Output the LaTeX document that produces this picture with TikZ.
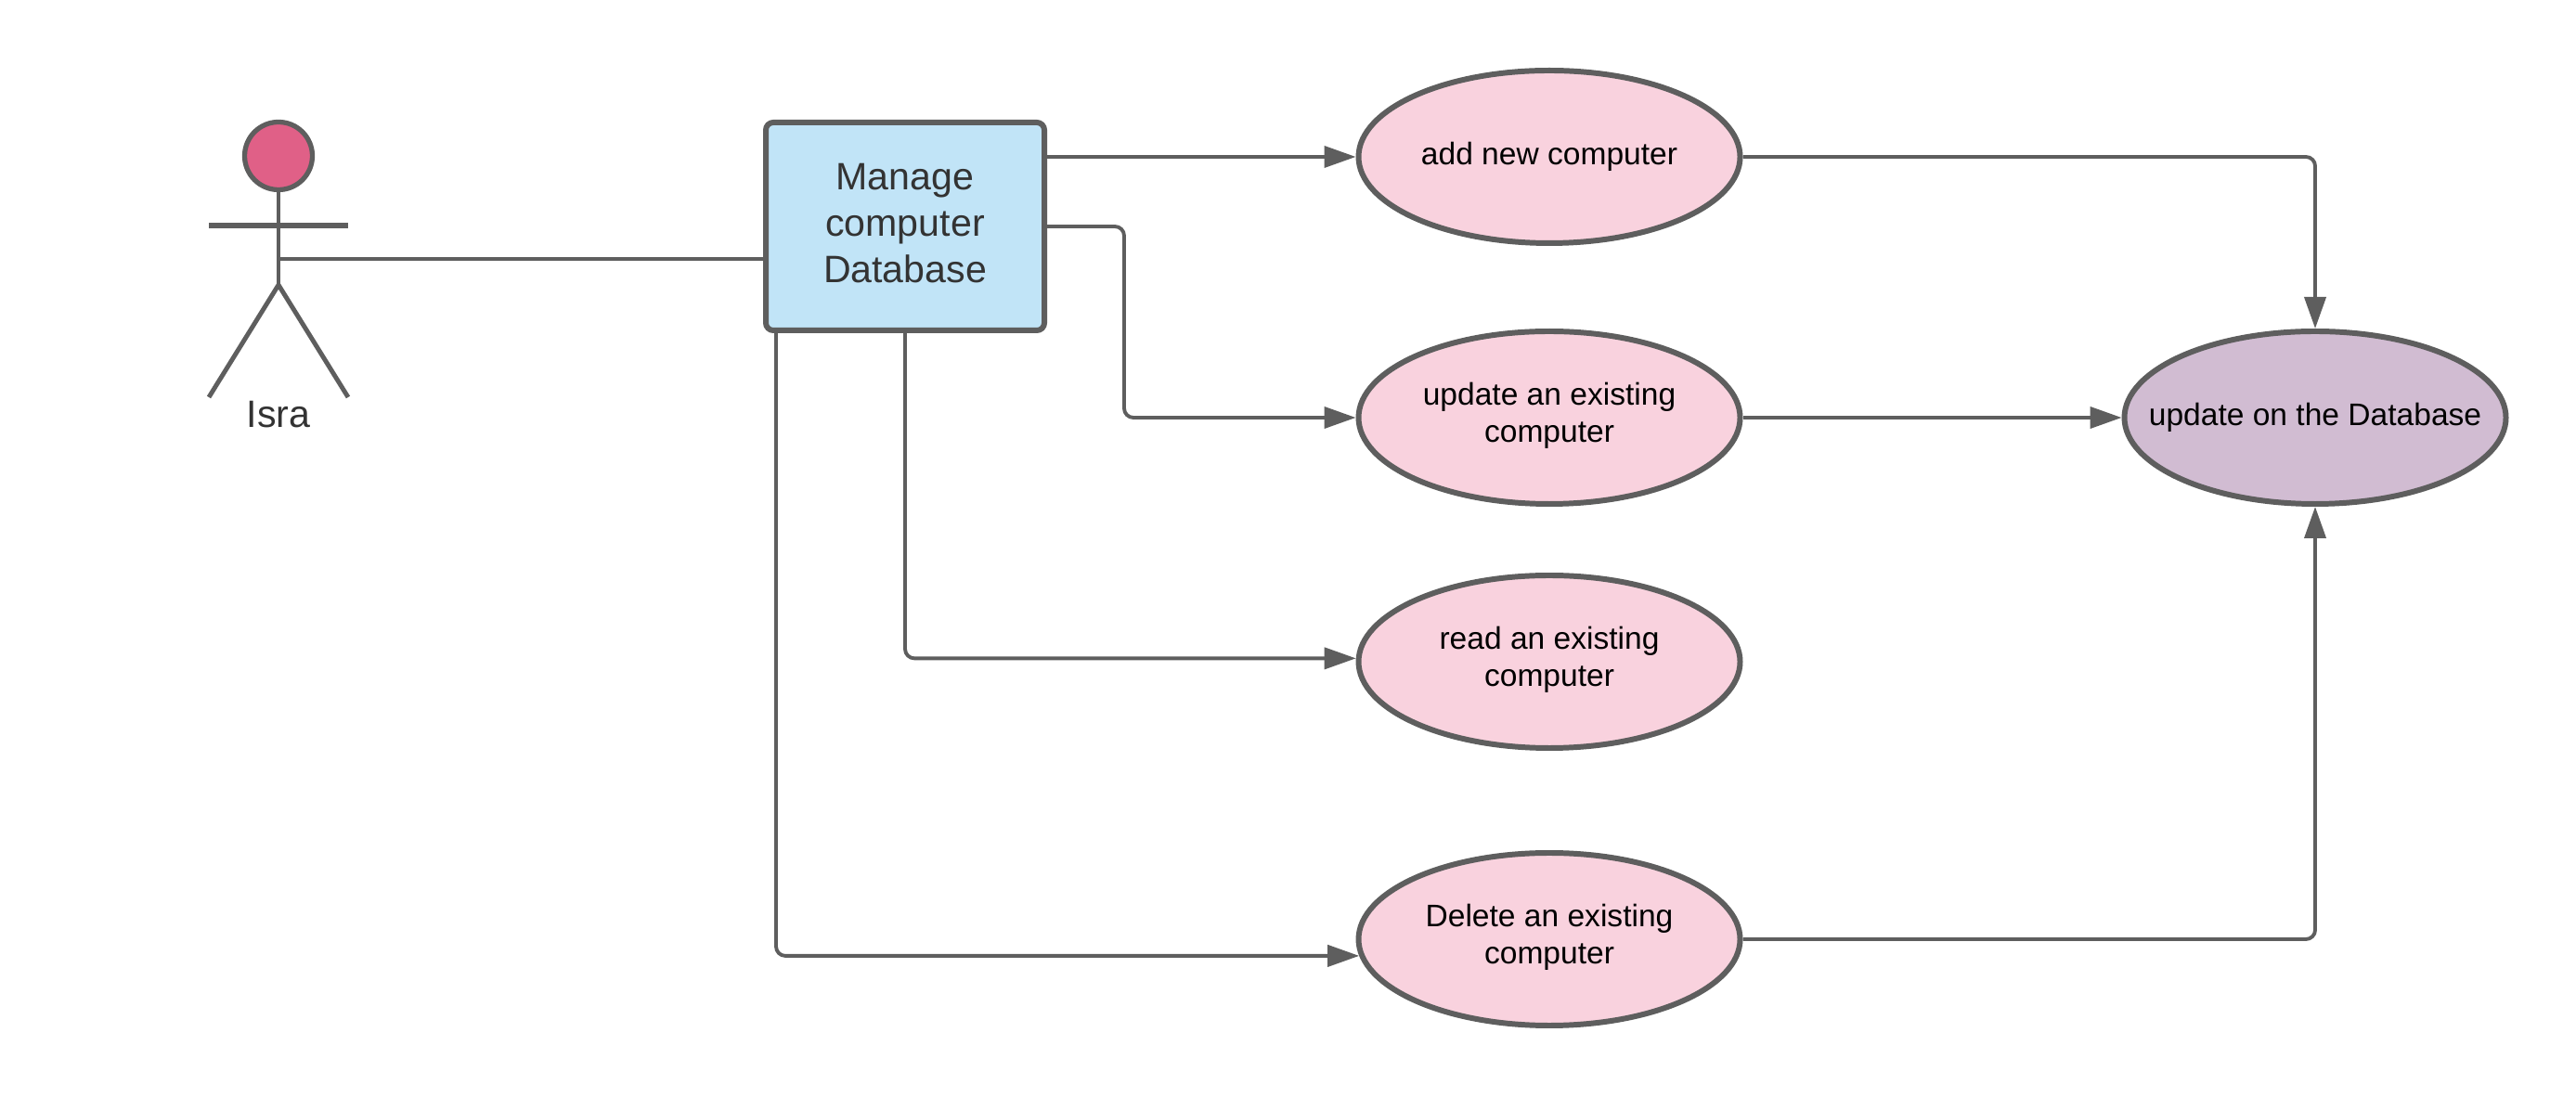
\documentclass[tikz,border=0pt]{standalone}
\usepackage{fontspec}
\setmainfont{Liberation Sans}
\usetikzlibrary{arrows.meta,shapes.geometric}

\definecolor{linegray}{HTML}{5E5E5E}
\definecolor{casepink}{HTML}{F9D2DE}
\definecolor{boxblue}{HTML}{C1E4F7}
\definecolor{headpink}{HTML}{E06087}
\definecolor{dbpurple}{HTML}{D1BCD2}

\tikzset{
    usecase/.style={ellipse, draw=linegray, line width=1.7pt, fill=casepink, minimum width=4.11cm, minimum height=1.86cm, inner sep=0pt, align=center, font=\fontsize{9.55}{11.4}\selectfont},
    flow/.style={draw=linegray, line width=1.1pt, rounded corners=0.1cm, -{Triangle[length=0.34cm,width=0.23cm]}},
    limb/.style={draw=linegray, line width=1.4pt},
}

\begin{document}
\begin{tikzpicture}

\useasboundingbox (0,0) rectangle (27.75,11.81);

% Define the columns
\def\Casex{16.69} % use case column
\def\Dbx{24.94} % database column

% Draw the actor
\node[circle, draw=linegray, line width=1.5pt, fill=headpink, minimum size=0.73cm, inner sep=0pt] (head) at (3,10.13) {};
\coordinate (armleft) at (2.25,9.38);
\coordinate (armright) at (3.75,9.38);
\coordinate (hip) at (3,8.74);
\coordinate (waist) at (3,9.02);
\coordinate (footleft) at (2.25,7.53);
\coordinate (footright) at (3.75,7.53);
\draw[limb] (head.south) -- (hip);
\draw[limb, line width=1.7pt] (armleft) -- (armright);
\draw[limb] (footleft) -- (hip) -- (footright);
\node[text=black!80, font=\fontsize{11.7}{14.2}\selectfont] (actor) at (3,7.34) {Isra};

% Draw the main box
\node[rectangle, rounded corners=0.08cm, draw=linegray, line width=1.7pt, fill=boxblue, minimum width=3cm, minimum height=2.24cm, inner sep=0pt, align=center, text=black!80, font=\fontsize{11.7}{14.2}\selectfont] (manage) at (9.75,9.37) {Manage\\computer\\Database\\[-12.1pt]};

% Draw the use cases
\node[usecase] (newcase) at (\Casex,10.12) {add new computer};
\node[usecase] (updatecase) at (\Casex,7.31) {update an existing\\computer\\[-8.1pt]};
\node[usecase] (readcase) at (\Casex,4.68) {read an existing\\computer\\[-8.1pt]};
\node[usecase] (deletecase) at (\Casex,1.69) {Delete an existing\\computer\\[-8.1pt]};
\node[usecase, fill=dbpurple] (dbcase) at (\Dbx,7.31) {\makebox[0pt]{update on the Database}};

% Draw the connectors
\draw[draw=linegray, line width=1.1pt] (waist) -- (waist -| manage.west);
\draw[flow] (manage.east |- newcase.west) -- (newcase.west);
\draw[flow] (manage.east) -- ++(0.83,0) |- (updatecase.west);
\coordinate (readend) at (readcase.179.4);
\draw[flow] (manage.south) |- (readend);
\coordinate (deleteout) at (8.36,9.37);
\coordinate (deleteend) at (deletecase.185.4);
\draw[flow] (deleteout |- manage.south) |- (deleteend);
\draw[flow] (newcase.east) -| (dbcase.north);
\draw[flow] (updatecase.east) -- (dbcase.west);
\draw[flow] (deletecase.east) -| (dbcase.south);

\end{tikzpicture}
\end{document}
